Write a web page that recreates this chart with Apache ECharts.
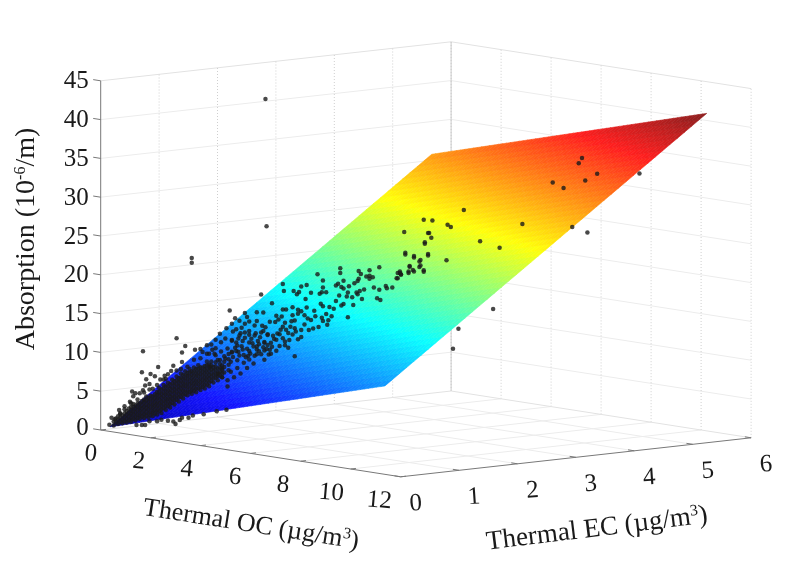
<!DOCTYPE html>
<html><head><meta charset="utf-8">
<style>html,body{margin:0;padding:0;background:#fff}#c{width:805px;height:578px}</style>
<script src="https://cdn.jsdelivr.net/npm/echarts@6/dist/echarts.min.js"></script>
</head><body><div id="c"></div>
<script>
const ocTicks=[0,2,4,6,8,10,12];
const ecTicks=[0,1,2,3,4,5,6];
const absTicks=[0,5,10,15,20,25,30,35,40,45];
const planeOC=[0.37,11.37];
const planeEC=[0,5.51];
const planeAbs=[[0.6,31.1],[11.4,41.9]];
const jetStops=[0,0.125,0.375,0.625,0.875,1];
const jetColors=[[0,0,170],[20,20,255],[10,255,255],[255,255,10],[255,30,30],[135,30,30]];
// isolated samples: [OC, EC, absorption]
const samples=[
[3.04,1.52,42.9],[3.06,1.53,26.5],[1.68,.84,22.3],[1.68,.84,21.7],[.78,.39,10.2],[1.40,.70,11.95],[1.56,.78,10.97],[1.5,.75,10.1],[1.5,.75,8.9],[1.06,.53,8.2],[.76,.38,7.5],[1.74,.87,10.5],[1.84,.92,10.6],[1.34,.67,8.4],[1.24,.62,7.3],[1.3,.65,7.7],[1.18,.59,7.1],[.92,.46,7.3],[1.0,.50,7.0],[1.1,.55,6.6],[1.16,.58,6.6],[.84,.42,6.6],[.9,.45,6.0],[.82,.41,5.8],[.9,.45,5.3],[.78,.39,5.2],[.58,.29,5.0],[.64,.32,4.8],[.72,.36,4.8],[.6,.30,4.4],[.54,.27,3.7],[.44,.22,2.7],[.34,.17,2.6],[.36,.18,2.2],[.2,.10,1.6],[.26,.13,1.4],[.44,.22,3.1],
[.66,.33,.7],[.76,.38,.7],[.82,.41,.7],[.9,.45,1.2],[1.04,.52,1.2],[1.12,.56,1.4],[1.24,.62,1.3],[1.34,.67,1.2],[1.38,.69,.9],[1.46,.73,1.4],[1.5,.75,1.7],[1.62,.81,1.7],[1.7,.85,2.0],[1.9,.95,2.2],[2.14,1.07,2.6],[2.32,1.16,2.8],
[2.12,1.06,11.8],[2.22,1.11,11.5],[2.3,1.15,12.0],[2.12,1.06,10.7],[2.22,1.11,10.3],[2.34,1.17,10.7],[2.42,1.21,11.8],[2.52,1.26,11.1],[2.42,1.21,10.3],[2.54,1.27,10.3],[2.64,1.32,9.9],[2.7,1.35,10.7],[2.8,1.40,11.4],[2.88,1.44,11.0],[3.02,1.51,11.6],[3.08,1.54,12.5],[2.58,1.29,12.7],[2.74,1.37,12.5],[2.86,1.43,12.7],[3.02,1.51,10.5],[2.88,1.44,10.0],[2.74,1.37,9.3],[2.64,1.32,8.9],[2.52,1.26,9.2],[2.4,1.20,9.0],[2.3,1.15,9.4],[2.16,1.08,9.2],[2.12,1.06,9.8],[2.06,1.03,10.5],[1.96,.98,10.0],[1.88,.94,10.2],[2.02,1.01,8.3],[2.24,1.12,8.1],[2.4,1.20,7.7],[2.52,1.26,8.2],[2.58,1.29,7.5],[2.46,1.23,7.0],[2.34,1.17,6.6],[2.34,1.17,5.8],[2.24,1.12,7.0],[2.16,1.08,7.4],[2.7,1.35,8.2],[2.82,1.41,8.8],[3.02,1.51,9.3],[3.1,1.55,10.0],
[5.98,2.99,24.5],[5.62,2.81,23.1],[5.78,2.89,22.7],[6.04,3.02,23.0],[5.88,2.94,22.2],[5.88,2.94,21.5],[5.7,2.85,21.5],[5.68,2.84,20.7],[5.78,2.89,20.9],[5.96,2.98,20.9],[5.14,2.57,21.4],[4.96,2.48,21.0],[5.48,2.74,20.7],[5.52,2.76,20.9],[5.54,2.77,20.5],[5.46,2.73,20.0],[5.48,2.74,20.0],[4.76,2.38,20.9],[4.8,2.40,20.5],[4.76,2.38,19.9],[4.74,2.37,19.6],[4.9,2.45,20.2],[4.96,2.48,20.3],[5.02,2.51,20.1],[4.96,2.48,19.9],[4.42,2.21,21.2],[4.42,2.21,20.6],[4.0,2.00,20.4],[4.1,2.05,19.6],[4.48,2.24,19.6],[4.68,2.34,19.3],[4.58,2.29,18.9],[4.34,2.17,19.0],[4.38,2.19,19.2],[4.44,2.22,18.8],[4.48,2.24,18.6],[5.04,2.52,18.8],[5.14,2.57,18.5],[5.26,2.63,19.0],[5.28,2.64,18.7],[5.38,2.69,18.8],[4.86,2.43,18.5],[4.78,2.39,18.3],[4.74,2.37,17.9],[4.72,2.36,18.1],[4.56,2.28,18.1],[4.54,2.27,17.6],[4.64,2.32,17.5],[4.82,2.41,17.3],[5.1,2.55,17.4],[5.16,2.58,17.2],[4.4,2.20,17.7],[4.34,2.17,17.0],[4.48,2.24,16.6],[4.44,2.22,16.4],[4.66,2.33,16.5],
[3.36,1.68,19.1],[3.38,1.69,18.2],[3.56,1.78,18.2],[3.66,1.83,18.1],[3.62,1.81,17.8],[3.7,1.85,18.8],[3.8,1.90,19.0],[3.88,1.94,18.0],[4.04,2.02,17.9],[4.08,2.04,18.1],[4.16,2.08,18.1],[4.1,2.05,18.7],[3.78,1.89,17.2],[2.96,1.48,17.7],[3.16,1.58,16.6],[4.06,2.03,16.6],[4.1,2.05,16.3],[4.22,2.11,16.2],[4.3,2.15,16.0],[3.36,1.68,15.8],[3.42,1.71,15.8],[3.54,1.77,16.1],[3.64,1.82,15.8],[3.8,1.90,16.1],[3.7,1.85,15.6],[3.64,1.82,15.3],[3.54,1.77,15.1],[3.94,1.97,15.7],[3.76,1.88,15.1],[3.82,1.91,14.7],[3.88,1.94,14.5],[4.16,2.08,15.3],[4.26,2.13,15.0],[4.56,2.28,14.9],[4.08,2.04,14.8],[3.96,1.98,15.0],[2.88,1.44,15.4],[3.0,1.50,15.4],[2.66,1.33,15.3],[2.7,1.35,14.8],[3.24,1.62,15.0],[3.34,1.67,14.9],[3.28,1.64,14.5],[3.12,1.56,14.2],[3.22,1.61,14.2],[3.4,1.70,14.1],[3.52,1.76,14.3],[3.58,1.79,14.4],[3.36,1.68,13.6],[3.42,1.71,13.2],[3.58,1.79,13.4],[3.76,1.88,13.9],[3.84,1.92,13.2],[3.92,1.96,13.4],[4.02,2.01,13.6],[4.1,2.05,14.4],[4.2,2.10,14.5],[4.18,2.09,13.9],
[2.38,1.19,15.6],[2.56,1.28,14.3],[2.42,1.21,13.9],[2.5,1.25,13.2],[2.66,1.33,13.9],[2.84,1.42,13.7],[2.98,1.49,13.7],[2.74,1.37,13.0],[2.66,1.33,12.8],[2.56,1.28,12.4],[2.84,1.42,12.4],[3.0,1.50,13.0],[3.08,1.54,12.6],[3.18,1.59,12.4],[3.3,1.65,12.6],[3.46,1.73,12.8],[3.54,1.77,12.6],[3.7,1.85,12.3],[2.42,1.21,11.7],[2.5,1.25,11.5],[2.62,1.31,11.7],[2.74,1.37,11.5],[2.9,1.45,11.7],[3.02,1.51,11.5],[3.14,1.57,11.5],[3.24,1.62,11.9],[3.4,1.70,11.7],[3.46,1.73,10.9],[3.3,1.65,11.1],[3.12,1.56,10.6],[3.0,1.50,10.9],[2.88,1.44,10.6],[2.74,1.37,10.4],[2.62,1.31,10.6],[2.5,1.25,10.4],[2.42,1.21,10.2],[2.56,1.28,9.8],[2.72,1.36,9.8],[2.84,1.42,9.8],[2.96,1.48,10.0],[3.14,1.57,10.1],[3.58,1.79,9.8],
[2.44,1.22,9.6],[2.48,1.24,10.8],[2.54,1.27,12.0],[2.6,1.30,11.0],[2.66,1.33,12.1],[2.68,1.34,9.6],[2.76,1.38,10.1],[2.78,1.39,12.0],[2.82,1.41,11.0],[2.92,1.46,10.4],[2.92,1.46,11.3],[2.94,1.47,12.2],[3.06,1.53,10.7],[3.08,1.54,11.2],[3.16,1.58,11.0],[3.2,1.60,12.0],[3.24,1.62,10.5],[3.26,1.63,12.7],[3.32,1.66,13.2],[3.36,1.68,12.1],[3.4,1.70,11.2],[3.48,1.74,11.9],[3.5,1.75,13.6],[3.6,1.80,13.0],[3.64,1.82,12.0],[3.7,1.85,13.2],[2.96,1.48,12.8],[3.04,1.52,13.5],[2.88,1.44,14.3],[2.74,1.37,14.2],[2.6,1.30,13.4],[2.48,1.24,14.6],[2.44,1.22,12.9],[2.32,1.16,13.3],[2.2,1.10,12.6],[2.04,1.02,11.2],[2.0,1.00,10.0],[1.84,.92,9.4],[1.72,.86,9.2],[1.6,.80,8.3],[1.48,.74,8.0],[1.4,.70,7.8],[1.2,.60,6.7],[1.04,.52,5.9],[.96,.48,5.4],[.8,.40,4.9],[.68,.34,4.0],[.56,.28,3.5],[1.96,.98,11.1],[2.1,1.05,10.0],
[8.88,4.44,35.8],[8.82,4.41,35.1],[9.16,4.58,33.8],[8.94,4.47,32.9],[8.34,4.17,32.6],[8.54,4.27,31.9],[9.94,4.97,33.9],[6.7,3.35,28.9],[5.96,2.98,27.6],[6.12,3.06,27.5],[6.4,3.20,27.0],[6.46,3.23,26.7],[5.6,2.80,26.0],[6.04,3.02,25.9],[6.06,3.03,25.9],[6.1,3.05,25.3],[5.98,2.99,24.7],[7.0,3.50,24.9],[7.36,3.68,24.1],[7.78,3.89,27.2],[8.7,4.35,26.9],[8.98,4.49,26.2],[5.62,2.81,23.3],[5.78,2.89,22.9],[6.04,3.02,23.2],[5.9,2.95,22.4],[6.38,3.19,22.4],[5.9,2.95,21.7],[5.7,2.85,21.6],[5.76,2.88,21.1],[5.96,2.98,21.1],[5.68,2.84,20.9],[5.52,2.76,20.7],[5.54,2.77,20.5],[7.24,3.62,16.2],[6.6,3.30,13.6],[6.5,3.25,11.0]
];
// dense low-concentration band: [OC, EC, absorption readings]
const denseBand=[
[.16,.08,[.7]],[.24,.12,[.6,1.1]],[.32,.16,[.8,1.3,1.8]],[.4,.20,[.9,1.4,1.9]],[.48,.24,[1.0,1.5,2.0,2.5]],[.56,.28,[1.1,1.6,2.1,2.6,3.0]],[.64,.32,[1.3,1.8,2.3,2.8,3.2]],[.72,.36,[1.5,2.0,2.5,3.0,3.5]],[.8,.40,[1.6,2.1,2.6,3.1,3.6,4.0]],[.88,.44,[1.7,2.2,2.7,3.2,3.7,4.2]],[.96,.48,[1.9,2.4,2.9,3.4,3.9,4.4]],[1.04,.52,[2.1,2.6,3.1,3.6,4.1,4.6,5.0]],[1.12,.56,[2.3,2.8,3.3,3.8,4.3,4.8,5.3]],[1.2,.60,[2.7,3.2,3.7,4.2,4.7,5.2,5.7]],[1.28,.64,[3.0,3.5,4.0,4.5,5.0,5.5,6.0]],[1.36,.68,[3.4,3.9,4.4,4.9,5.4,5.9,6.4]],[1.44,.72,[3.8,4.3,4.8,5.3,5.8,6.3,6.8]],[1.52,.76,[4.2,4.7,5.2,5.7,6.2,6.7,7.2]],[1.6,.80,[4.6,5.1,5.6,6.1,6.6,7.1,7.5]],[1.68,.84,[4.8,5.3,5.8,6.3,6.8,7.3,7.7]],[1.76,.88,[5.0,5.5,6.0,6.5,7.0,7.5,8.0]],[1.84,.92,[5.3,5.8,6.3,6.8,7.3,7.8,8.2]],[1.92,.96,[5.5,6.0,6.5,7.0,7.5,8.0,8.4]],[2.0,1.00,[5.8,6.3,6.8,7.3,7.8,8.3,8.6]],[2.08,1.04,[6.3,6.8,7.3,7.8,8.3]],[2.16,1.08,[6.6,7.1,7.6,8.1]],[2.24,1.12,[7.0,7.5,8.0,8.5]],
[.28,.14,[1.0,1.5]],[.36,.18,[1.1,1.6,2.1]],[.44,.22,[1.2,1.7,2.2]],[.52,.26,[1.3,1.8,2.3,2.8]],[.6,.30,[1.5,2.0,2.5,3.0,3.4]],[.68,.34,[1.6,2.1,2.6,3.1,3.5]],[.76,.38,[1.8,2.3,2.8,3.3,3.8]],[.84,.42,[1.9,2.4,2.9,3.4,3.9,4.4]],[.92,.46,[2.0,2.5,3.0,3.5,4.0,4.5]],[1.0,.50,[2.2,2.7,3.2,3.7,4.2,4.7]],[1.08,.54,[2.5,3.0,3.5,4.0,4.5,5.0,5.5]],[1.16,.58,[2.9,3.4,3.9,4.4,4.9,5.4,5.9]],[1.24,.62,[3.2,3.7,4.2,4.7,5.2,5.7,6.2]],[1.32,.66,[3.6,4.1,4.6,5.1,5.6,6.1,6.6]],[1.4,.70,[4.0,4.5,5.0,5.5,6.0,6.5,7.0]],[1.48,.74,[4.4,4.9,5.4,5.9,6.4,6.9,7.4]],[1.56,.78,[4.7,5.2,5.7,6.2,6.7,7.2,7.7]],[1.64,.82,[5.0,5.5,6.0,6.5,7.0,7.5,8.0]],[1.72,.86,[5.2,5.7,6.2,6.7,7.2,7.7,8.2]],[1.8,.90,[5.5,6.0,6.5,7.0,7.5,8.0,8.5]],[1.88,.94,[5.7,6.2,6.7,7.2,7.7,8.2]],[1.96,.98,[6.0,6.5,7.0,7.5,8.0,8.5,9.0]],[2.04,1.02,[6.5,7.0,7.5,8.0,8.5,9.0]],[2.12,1.06,[6.9,7.4,7.9,8.4,8.9]],[2.2,1.10,[7.2,7.7,8.2,8.7,9.2]],[2.28,1.14,[7.6,8.3,9.0,9.7]],[2.36,1.18,[7.9,8.6,9.3,10.0]]
];
const serif='"Liberation Serif","Times New Roman",serif';
// orthographic view of the 3-D box
function project(oc,ec,ab){return [100.7+25*oc+58.4*ec,430+3.9*oc-6.5*ec-7.76*ab];}
const OCMAX=12,ECMAX=6,ZMAX=45;
const segs=[];
function seg(a,b,kind){segs.push([a,b,kind]);}
absTicks.forEach(z=>{if(z>0&&z<45){seg([0,0,z],[0,ECMAX,z],'soft');seg([0,ECMAX,z],[OCMAX,ECMAX,z],'soft');}});
seg([0,0,45],[0,ECMAX,45],'edge');seg([0,ECMAX,45],[OCMAX,ECMAX,45],'edge');
ecTicks.forEach(e=>{if(e>0){seg([0,e,0],[0,e,45],'dot');}if(e>0&&e<6)seg([0,e,0],[OCMAX,e,0],'soft');});
ocTicks.forEach(o=>{if(o>0){seg([o,ECMAX,0],[o,ECMAX,45],'dot');}if(o>0&&o<12)seg([o,0,0],[o,ECMAX,0],'soft');});
seg([0,ECMAX,0],[0,ECMAX,45],'back');
seg([0,0,0],[0,ECMAX,0],'edge');seg([0,ECMAX,0],[OCMAX,ECMAX,0],'edge');
seg([0,0,0],[0,0,45],'axis');seg([0,0,0],[OCMAX,0,0],'axis');seg([OCMAX,0,0],[OCMAX,ECMAX,0],'axis');
absTicks.forEach(z=>seg([-.3,0,z],[0,0,z],'axis'));
ocTicks.forEach(o=>seg([o,0,0],[o,.09,0],'axis'));
ecTicks.forEach(e=>seg([OCMAX,e,0],[OCMAX-.25,e,0],'axis'));
const segStyle={
 soft:{stroke:'#ececec',lineWidth:1},
 edge:{stroke:'#e2e2e2',lineWidth:1},
 dot:{stroke:'#cfcfcf',lineWidth:1,lineDash:[1,2]},
 back:{stroke:'#cacaca',lineWidth:1},
 axis:{stroke:'#787878',lineWidth:1}
};
function jet(t){t=Math.max(0,Math.min(1,t));let i=0;while(i<jetStops.length-2&&t>jetStops[i+1])i++;
 const f=(t-jetStops[i])/(jetStops[i+1]-jetStops[i]);
 const c=jetColors[i].map((v,k)=>Math.round(v+(jetColors[i+1][k]-v)*f));return 'rgb('+c.join(',')+')';}
const NU=66,NV=44;
const zmin=planeAbs[0][0],zmax=planeAbs[1][1];
function surf(u,v){const oc=planeOC[0]+(planeOC[1]-planeOC[0])*u,ec=planeEC[0]+(planeEC[1]-planeEC[0])*v;
 const z=planeAbs[0][0]*(1-u)*(1-v)+planeAbs[0][1]*(1-u)*v+planeAbs[1][0]*u*(1-v)+planeAbs[1][1]*u*v;return [oc,ec,z];}
const cells=[];for(let i=0;i<NU;i++)for(let j=0;j<NV;j++)cells.push([i,j]);
const pts=samples.map(p=>project(p[0],p[1],p[2]));
denseBand.forEach(c=>c[2].forEach(z=>pts.push(project(c[0],c[1],z))));
const tickLabels=[];
absTicks.forEach(z=>{const p=project(0,0,z);tickLabels.push({x:p[0]-12,y:p[1]+1-(z===0?3:0),t:String(z),a:'right',r:0});});
ocTicks.forEach(o=>{const p=project(o,0,0);tickLabels.push({x:p[0]-10-o*.95,y:p[1]+24,t:String(o),a:'center',r:-5});});
ecTicks.forEach(e=>{const p=project(OCMAX,e,0);tickLabels.push({x:p[0]+15,y:p[1]+27,t:String(e),a:'center',r:4});});
const chart=echarts.init(document.getElementById('c'),null,{renderer:'canvas'});
function axTitle(x,y,rotDeg,size,text){return {type:'text',x:x,y:y,rotation:rotDeg*Math.PI/180,z:20,silent:true,style:{text:text,font:size+'px '+serif,fill:'#1a1a1a',align:'center',verticalAlign:'middle',rich:{s:{fontSize:16,fontFamily:serif,fill:'#1a1a1a',verticalAlign:'top',lineHeight:28,padding:[0,0,10,0]},n:{fontSize:size,fontFamily:serif,fill:'#1a1a1a',lineHeight:28}}}};}
chart.setOption({
 animation:false,
 grid:{left:0,right:0,top:0,bottom:0},
 xAxis:{type:'value',min:0,max:805,show:false},
 yAxis:{type:'value',min:0,max:578,inverse:true,show:false},
 graphic:[
  axTitle(251,525,-9,26,'{n|Thermal OC (µg/m}{s|3}{n|)}'),
  axTitle(597,529,7,27,'{n|Thermal EC (µg/m}{s|3}{n|)}'),
  axTitle(27,239,90,28,'{n|Absorption (10}{s|-6}{n|/m)}')
 ],
 series:[
 {type:'custom',coordinateSystem:'cartesian2d',silent:true,z:1,data:segs.map((s,i)=>[i]),clip:false,
  renderItem:(params,api)=>{const s=segs[api.value(0)];const a=api.coord(project(...s[0])),b=api.coord(project(...s[1]));
   return {type:'line',shape:{x1:a[0],y1:a[1],x2:b[0],y2:b[1]},style:segStyle[s[2]]};}},
 {type:'custom',coordinateSystem:'cartesian2d',silent:true,z:2,data:cells,clip:false,
  renderItem:(params,api)=>{const i=api.value(0),j=api.value(1);
   const q=[[i,j],[i+1,j],[i+1,j+1],[i,j+1]].map(c=>api.coord(project(...surf(c[0]/NU,c[1]/NV))));
   const z=surf((i+.5)/NU,(j+.5)/NV)[2];const col=jet((z-zmin)/(zmax-zmin));
   return {type:'polygon',shape:{points:q},style:{fill:col,stroke:col,lineWidth:.6}};}},
 {type:'scatter',data:pts,symbol:'circle',symbolSize:4.5,itemStyle:{color:'#1a1a1a'},silent:true,z:3,clip:false,large:false},
 {type:'custom',coordinateSystem:'cartesian2d',silent:true,z:4,data:tickLabels.map((s,i)=>[i]),clip:false,
  renderItem:(params,api)=>{const l=tickLabels[api.value(0)];const p=api.coord([l.x,l.y]);
   return {type:'text',x:p[0],y:p[1],rotation:l.r*Math.PI/180,style:{text:l.t,font:'25px '+serif,fill:'#1a1a1a',align:l.a,verticalAlign:'middle'}};}}
 ]
});
</script></body></html>
